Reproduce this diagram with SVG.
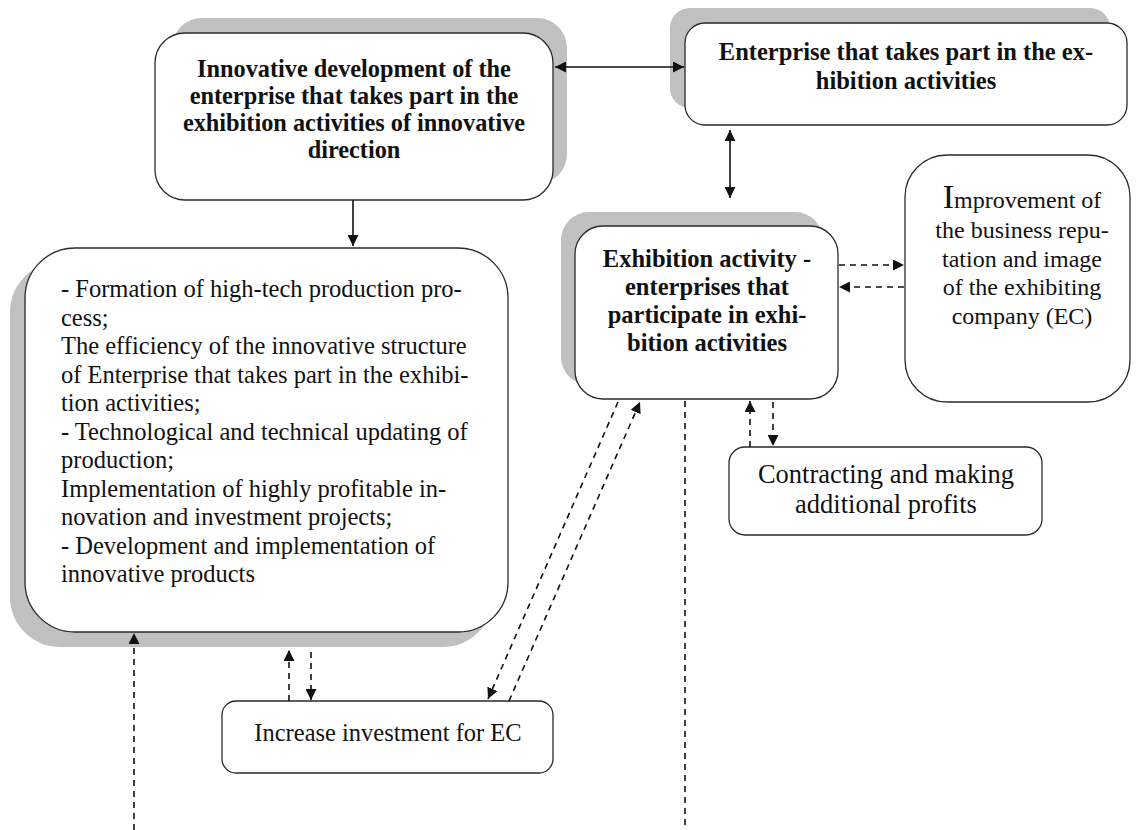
<svg xmlns="http://www.w3.org/2000/svg" width="1138" height="830" viewBox="0 0 1138 830">
<style>
.bg{fill:#ffffff}
.sh{fill:#c0c0c0;stroke:none}
.box{fill:#ffffff;stroke:#2a2a2a;stroke-width:1.3}
.t{font-family:"Liberation Serif","Times New Roman",serif;font-size:24.5px;fill:#111}
.b{font-weight:bold}
.c{text-anchor:middle}
.ln{stroke:#111;stroke-width:1.6;fill:none}
.dl{stroke:#111;stroke-width:1.6;fill:none;stroke-dasharray:6,5}
</style>
<defs>
<marker id="ah" viewBox="0 0 10 10" refX="10" refY="5" markerWidth="11" markerHeight="11" markerUnits="userSpaceOnUse" orient="auto-start-reverse">
<path d="M0,0 L10,5 L0,10 z" fill="#111"/>
</marker>
</defs>
<rect class="bg" x="0" y="0" width="1138" height="830"/>

<g id="node-innovative">
<rect class="sh" x="172" y="18" width="395" height="166" rx="30"/>
<rect class="box" x="155" y="33" width="398" height="167" rx="30"/>
<text class="t b c" style="font-size:24.3px"><tspan x="354" y="77">Innovative development of the</tspan><tspan x="354" y="104">enterprise that takes part in the</tspan><tspan x="354" y="131">exhibition activities of innovative</tspan><tspan x="354" y="158">direction</tspan></text>
</g>

<g id="node-enterprise">
<rect class="sh" x="670" y="8" width="440" height="100" rx="20"/>
<rect class="box" x="685" y="23" width="442" height="102" rx="20"/>
<text class="t b c"><tspan x="906" y="60">Enterprise that takes part in the ex-</tspan><tspan x="906" y="89">hibition activities</tspan></text>
</g>

<g id="node-exhibition">
<rect class="sh" x="561" y="212" width="262" height="173" rx="28"/>
<rect class="box" x="575" y="226" width="263" height="173" rx="28"/>
<text class="t b c"><tspan x="707" y="267">Exhibition activity -</tspan><tspan x="707" y="295">enterprises that</tspan><tspan x="707" y="323">participate in exhi-</tspan><tspan x="707" y="351">bition activities</tspan></text>
</g>

<g id="node-improvement">
<rect class="box" x="905" y="155" width="225" height="247" rx="42"/>
<text class="t c" style="font-size:24px"><tspan x="1022" y="208"><tspan style="font-size:34px">I</tspan>mprovement of</tspan><tspan x="1022" y="238">the business repu-</tspan><tspan x="1022" y="266.5">tation and image</tspan><tspan x="1022" y="295">of the exhibiting</tspan><tspan x="1022" y="323.5">company (EC)</tspan></text>
</g>

<g id="node-list">
<rect class="sh" x="10" y="262" width="483" height="385" rx="50"/>
<rect class="box" x="25" y="248" width="483" height="384" rx="50"/>
<text class="t"><tspan x="61" y="297">- Formation of high-tech production pro-</tspan><tspan x="61" y="325.5">cess;</tspan><tspan x="61" y="354">The efficiency of the innovative structure</tspan><tspan x="61" y="382.5">of Enterprise that takes part in the exhibi-</tspan><tspan x="61" y="411">tion activities;</tspan><tspan x="61" y="439.5">- Technological and technical updating of</tspan><tspan x="61" y="468">production;</tspan><tspan x="61" y="496.5">Implementation of highly profitable in-</tspan><tspan x="61" y="525">novation and investment projects;</tspan><tspan x="61" y="553.5">- Development and implementation of</tspan><tspan x="61" y="582">innovative products</tspan></text>
</g>

<g id="node-contracting">
<rect class="box" x="729" y="447" width="313" height="88" rx="16"/>
<text class="t c" style="font-size:26.5px"><tspan x="886" y="483">Contracting and making</tspan><tspan x="886" y="513">additional profits</tspan></text>
</g>

<g id="node-investment">
<rect class="box" x="222" y="701" width="331" height="72" rx="14"/>
<text class="t c" x="388" y="741">Increase investment for EC</text>
</g>

<g id="connectors">
<line class="ln" x1="555" y1="67" x2="684" y2="67" marker-start="url(#ah)" marker-end="url(#ah)"/>
<line class="ln" x1="730" y1="130" x2="730" y2="198" marker-start="url(#ah)" marker-end="url(#ah)"/>
<line class="ln" x1="353" y1="200" x2="353" y2="246" marker-end="url(#ah)"/>
<line class="dl" x1="839" y1="265" x2="904" y2="265" marker-end="url(#ah)"/>
<line class="dl" x1="904" y1="287" x2="839" y2="287" marker-end="url(#ah)"/>
<line class="dl" x1="750" y1="447" x2="750" y2="401" marker-end="url(#ah)"/>
<line class="dl" x1="773" y1="402" x2="773" y2="446" marker-end="url(#ah)"/>
<line class="dl" x1="685" y1="401" x2="685" y2="830"/>
<line class="dl" x1="618" y1="402" x2="488" y2="699" marker-end="url(#ah)"/>
<line class="dl" x1="509" y1="701" x2="640" y2="402" marker-end="url(#ah)"/>
<line class="dl" x1="289" y1="701" x2="289" y2="650" marker-end="url(#ah)"/>
<line class="dl" x1="311" y1="652" x2="311" y2="700" marker-end="url(#ah)"/>
<line class="dl" x1="134" y1="830" x2="134" y2="633" marker-end="url(#ah)"/>
</g>
</svg>
